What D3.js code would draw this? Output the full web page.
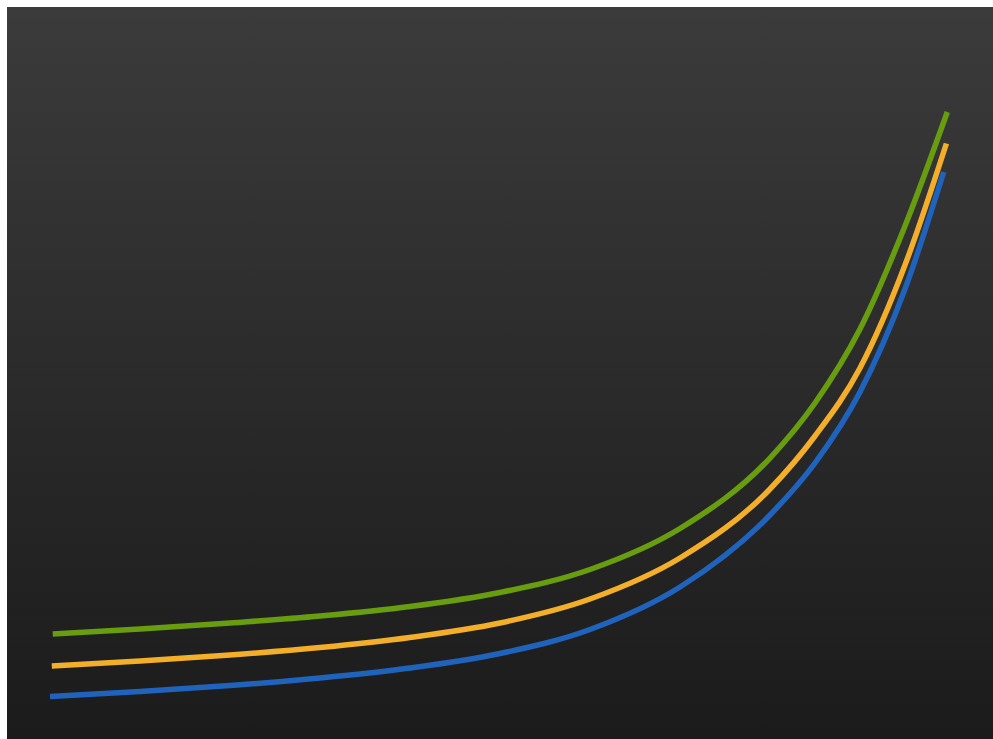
<!DOCTYPE html>
<html>
<head>
<meta charset="utf-8">
<script src="https://cdn.jsdelivr.net/npm/d3@7"></script>
<style>
  html, body { margin: 0; padding: 0; background: #ffffff; overflow: hidden; }
  svg { display: block; }
</style>
</head>
<body>
<script>
// ---- data ----
const xGreen  = [0.3, 10, 20, 30, 40, 50, 60, 70, 80, 85, 90, 95, 99.7];
const xOrange = [0.2, 10, 20, 30, 40, 50, 60, 70, 80, 85, 90, 95, 99.6];
const xBlue   = [0.0, 10, 20, 30, 40, 50, 60, 70, 80, 85, 90, 95, 99.3];
const yGreen  = [16.0, 16.83, 17.83, 19.0, 20.58, 22.92, 26.75, 33.58, 45.33, 54.5, 66.83, 84.0, 103.0];
const yOrange = [10.67, 11.5, 12.5, 13.75, 15.42, 17.83, 21.83, 28.67, 40.17, 49.0, 60.33, 77.5, 97.75];
const yBlue   = [5.58, 6.42, 7.42, 8.67, 10.33, 12.75, 16.75, 23.83, 35.83, 44.5, 56.33, 73.5, 93.0];
const seriesNames  = ["blue", "orange", "green"];
const seriesColors = ["#1f63bd", "#f3ae2a", "#699d10"];

const W = 993, H = 739;
const svg = d3.select("body").append("svg").attr("width", W).attr("height", H);

const defs = svg.append("defs");
const grad = defs.append("linearGradient").attr("id", "bg")
  .attr("x1", 0).attr("y1", 0).attr("x2", 0).attr("y2", 1);
grad.append("stop").attr("offset", "0%").attr("stop-color", "#3b3b3b");
grad.append("stop").attr("offset", "100%").attr("stop-color", "#1b1b1b");

svg.append("rect").attr("x", 0).attr("y", 0).attr("width", W).attr("height", H).attr("fill", "#ffffff");
svg.append("rect").attr("x", 7).attr("y", 7).attr("width", W - 7).attr("height", H - 7).attr("fill", "url(#bg)");

const x = d3.scaleLinear().domain([0, 100]).range([50, 950]);
const y = d3.scaleLinear().domain([0, 120]).range([730, 10]);

const series = [
  { name: seriesNames[0], color: seriesColors[0], xs: xBlue,   ys: yBlue },
  { name: seriesNames[1], color: seriesColors[1], xs: xOrange, ys: yOrange },
  { name: seriesNames[2], color: seriesColors[2], xs: xGreen,  ys: yGreen }
];

const line = d3.line()
  .x(d => x(d[0]))
  .y(d => y(d[1]))
  .curve(d3.curveMonotoneX);

svg.append("g").selectAll("path")
  .data(series)
  .join("path")
  .attr("d", s => line(s.xs.map((v, i) => [v, s.ys[i]])))
  .attr("fill", "none")
  .attr("stroke", s => s.color)
  .attr("stroke-width", 5.5)
  .attr("stroke-linecap", "butt");
</script>
</body>
</html>
